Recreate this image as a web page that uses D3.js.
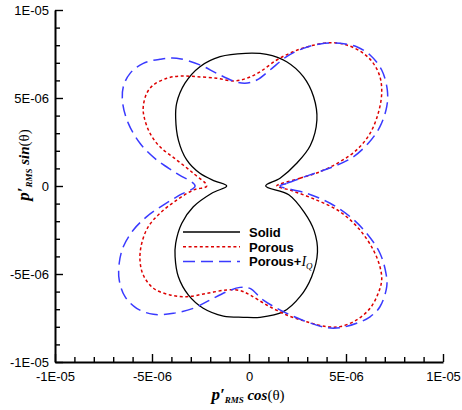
<!DOCTYPE html>
<html>
<head>
<meta charset="utf-8">
<script src="https://cdn.jsdelivr.net/npm/d3@7"></script>
<style>
  body { margin: 0; background: #fff; }
  svg { display: block; }
</style>
</head>
<body>
<div id="chart"></div>
<script>
// values in units of 1E-06 (p'_RMS cos(theta), p'_RMS sin(theta))
const tickValues = [-10, -5, 0, 5, 10];
const tickLabels = ["-1E-05", "-5E-06", "0", "5E-06", "1E-05"];
const minorTicks = [-9, -8, -7, -6, -4, -3, -2, -1, 1, 2, 3, 4, 6, 7, 8, 9];

const seriesNames = ["Solid", "Porous", "Porous+IQ"];

const solidX = [0.86, 1.60, 2.46, 3.16, 3.50, 3.33, 2.80, 1.94, 0.91, -0.18, -1.49, -2.53, -3.30, -3.73, -3.78, -3.64, -3.21, -2.53, -1.75, -1.15,
  -1.92, -2.87, -3.47, -3.78, -3.81, -3.64, -3.13, -2.36, -1.32, -0.29, 0.57, 1.77, 2.63, 3.23, 3.53, 3.36, 2.85, 2.05];
const solidY = [0, 0.44, 1.29, 2.30, 3.75, 5.07, 6.21, 7.06, 7.48, 7.54, 7.35, 6.78, 5.84, 4.70, 3.85, 2.61, 1.48, 0.72, 0.28, 0,
  -0.41, -1.18, -2.13, -3.26, -4.02, -5.16, -6.19, -6.95, -7.39, -7.46, -7.46, -7.14, -6.29, -5.15, -3.75, -2.55, -1.50, -0.50];

const porousX = [1.43, 2.63, 3.66, 4.69, 5.55, 6.24, 6.66, 6.84, 6.75, 6.41, 5.89, 5.04, 4.18, 3.14, 2.28, 1.43, 0.57, -0.12, -0.81, -1.66,
  -2.70, -3.56, -4.24, -4.93, -5.27, -5.45, -5.41, -5.10, -4.59, -3.73, -2.87, -2.18,
  -2.87, -3.73, -4.59, -5.19, -5.53, -5.62, -5.45, -4.93, -4.07, -3.21, -2.18, -1.15, -0.46, 0.05, 0.91, 1.94, 2.97, 4.01,
  4.69, 5.55, 6.24, 6.66, 6.84, 6.75, 6.41, 5.72, 4.69, 3.49, 2.11];
const porousY = [0, 0.44, 0.81, 1.38, 2.05, 2.99, 4.13, 5.27, 6.21, 6.97, 7.54, 8.01, 8.14, 7.95, 7.63, 7.16, 6.49, 6.12, 5.97, 6.12,
  6.21, 6.25, 6.12, 5.74, 5.27, 4.51, 3.94, 2.99, 2.23, 1.48, 0.72, 0,
  -0.23, -0.80, -1.55, -2.31, -3.26, -4.20, -5.06, -5.81, -6.19, -6.29, -6.10, -5.91, -5.94, -6.19, -6.76, -7.33, -7.71, -7.99,
  -7.99, -7.61, -6.95, -6.10, -5.34, -4.59, -3.64, -2.50, -1.46, -0.80, -0.23];

const porousIqX = [1.60, 1.94, 3.14, 4.35, 5.38, 6.15, 6.75, 7.10, 7.13, 6.84, 6.24, 5.55, 4.69, 3.66, 2.80, 1.94, 1.08, 0.40, -0.21, -0.81,
  -1.66, -2.53, -3.73, -4.59, -5.45, -6.13, -6.48, -6.51, -6.22, -5.62, -4.76, -3.73, -2.78,
  -3.56, -4.42, -5.27, -5.96, -6.48, -6.69, -6.69, -6.39, -5.79, -4.93, -3.90, -2.87, -2.01, -1.15, -0.46, 0.05, 0.74, 1.77,
  2.97, 4.01, 4.69, 5.55, 6.24, 6.75, 7.10, 7.06, 6.75, 6.07, 5.21, 4.18, 2.97];
const porousIqY = [0, 0.15, 0.63, 1.10, 1.66, 2.43, 3.37, 4.51, 5.45, 6.59, 7.44, 7.91, 8.11, 8.07, 7.82, 7.35, 6.59, 6.02, 5.84, 5.97,
  6.40, 6.88, 7.26, 7.20, 6.97, 6.40, 5.64, 4.70, 3.56, 2.43, 1.48, 0.72, 0,
  -0.51, -1.08, -1.74, -2.50, -3.45, -4.39, -5.34, -6.29, -6.95, -7.29, -7.23, -6.95, -6.48, -6.01, -5.76, -5.82, -6.48, -7.14,
  -7.71, -8.05, -8.05, -7.80, -7.43, -6.86, -5.72, -4.96, -3.82, -2.69, -1.74, -0.98, -0.41];

const W = 462, H = 410;
const x = d3.scaleLinear().domain([-10, 10]).range([55, 443]);
const y = d3.scaleLinear().domain([-10, 10]).range([362, 10]);

const svg = d3.select("#chart").append("svg")
  .attr("width", W).attr("height", H)
  .style("font-family", "'Liberation Sans', Arial, sans-serif");

const styles = [
  { color: "#000000", dash: null, width: 1.3 },
  { color: "#dd0000", dash: "3,2.6", width: 1.5 },
  { color: "#3a3aff", dash: "12,6", width: 1.5 }
];

const series = [
  d3.zip(solidX, solidY),
  d3.zip(porousX, porousY),
  d3.zip(porousIqX, porousIqY)
];

const line = d3.line()
  .x(d => x(d[0]))
  .y(d => y(d[1]))
  .curve(d3.curveCatmullRomClosed.alpha(0.5));

svg.selectAll("path.curve")
  .data(series)
  .join("path")
  .attr("class", "curve")
  .attr("d", line)
  .attr("fill", "none")
  .attr("stroke", (d, i) => styles[i].color)
  .attr("stroke-width", (d, i) => styles[i].width)
  .attr("stroke-dasharray", (d, i) => styles[i].dash);

// axes
const xAxis = svg.append("g").attr("transform", `translate(0,${y(-10)})`)
  .call(d3.axisBottom(x).tickValues(tickValues).tickSizeInner(-8).tickSizeOuter(0)
    .tickPadding(10).tickFormat((d, i) => tickLabels[i]));
const xMinor = svg.append("g").attr("transform", `translate(0,${y(-10)})`)
  .call(d3.axisBottom(x).tickValues(minorTicks).tickSizeInner(-5).tickSizeOuter(0).tickFormat(""));
const yAxis = svg.append("g").attr("transform", `translate(${x(-10)},0)`)
  .call(d3.axisLeft(y).tickValues(tickValues).tickSizeInner(-8).tickSizeOuter(0)
    .tickPadding(6).tickFormat((d, i) => tickLabels[i]));
const yMinor = svg.append("g").attr("transform", `translate(${x(-10)},0)`)
  .call(d3.axisLeft(y).tickValues(minorTicks).tickSizeInner(-5).tickSizeOuter(0).tickFormat(""));

[xAxis, xMinor, yAxis, yMinor].forEach(g => {
  g.select(".domain").attr("stroke", "#000").attr("stroke-width", 2);
  g.selectAll(".tick line").attr("stroke", "#000").attr("stroke-width", 1.4);
  g.selectAll("text").attr("font-size", 13).attr("fill", "#000")
    .attr("font-family", "'Liberation Sans', Arial, sans-serif");
});
xMinor.select(".domain").remove();
yMinor.select(".domain").remove();

// axis titles
const xt = svg.append("text")
  .attr("x", 248).attr("y", 400)
  .attr("text-anchor", "middle")
  .attr("font-family", "'Liberation Serif', 'Times New Roman', serif");
xt.append("tspan").attr("font-size", 17).attr("font-weight", "bold").attr("font-style", "italic").text("p′");
xt.append("tspan").attr("font-size", 9).attr("font-weight", "bold").attr("font-style", "italic").attr("dy", 3).text("RMS");
xt.append("tspan").attr("font-size", 15).attr("font-weight", "bold").attr("font-style", "italic").attr("dy", -3).text(" cos");
xt.append("tspan").attr("font-size", 15).text("(θ)");

const yt = svg.append("text")
  .attr("transform", "translate(29,165) rotate(-90)")
  .attr("text-anchor", "middle")
  .attr("font-family", "'Liberation Serif', 'Times New Roman', serif");
yt.append("tspan").attr("font-size", 17).attr("font-weight", "bold").attr("font-style", "italic").text("p′");
yt.append("tspan").attr("font-size", 9).attr("font-weight", "bold").attr("font-style", "italic").attr("dy", 3).text("RMS");
yt.append("tspan").attr("font-size", 15).attr("font-weight", "bold").attr("font-style", "italic").attr("dy", -3).text(" sin");
yt.append("tspan").attr("font-size", 15).text("(θ)");

// legend
const legend = svg.append("g").attr("transform", "translate(183,232)");
seriesNames.forEach((name, i) => {
  const row = legend.append("g").attr("transform", `translate(0,${i * 14.7})`);
  row.append("line")
    .attr("x1", 0).attr("x2", 57).attr("y1", 0).attr("y2", 0)
    .attr("stroke", styles[i].color)
    .attr("stroke-width", styles[i].width)
    .attr("stroke-dasharray", styles[i].dash);
  const t = row.append("text").attr("x", 66).attr("y", 5)
    .attr("font-size", 13).attr("font-weight", "bold");
  if (name === "Porous+IQ") {
    t.append("tspan").text("Porous+");
    t.append("tspan").attr("font-family", "'Liberation Serif', serif").attr("font-style", "italic")
      .attr("font-weight", "normal").attr("font-size", 14).text("I");
    t.append("tspan").attr("font-family", "'Liberation Serif', serif").attr("font-style", "italic")
      .attr("font-weight", "normal").attr("font-size", 9).attr("dy", 3).text("Q");
  } else {
    t.text(name);
  }
});
</script>
</body>
</html>
